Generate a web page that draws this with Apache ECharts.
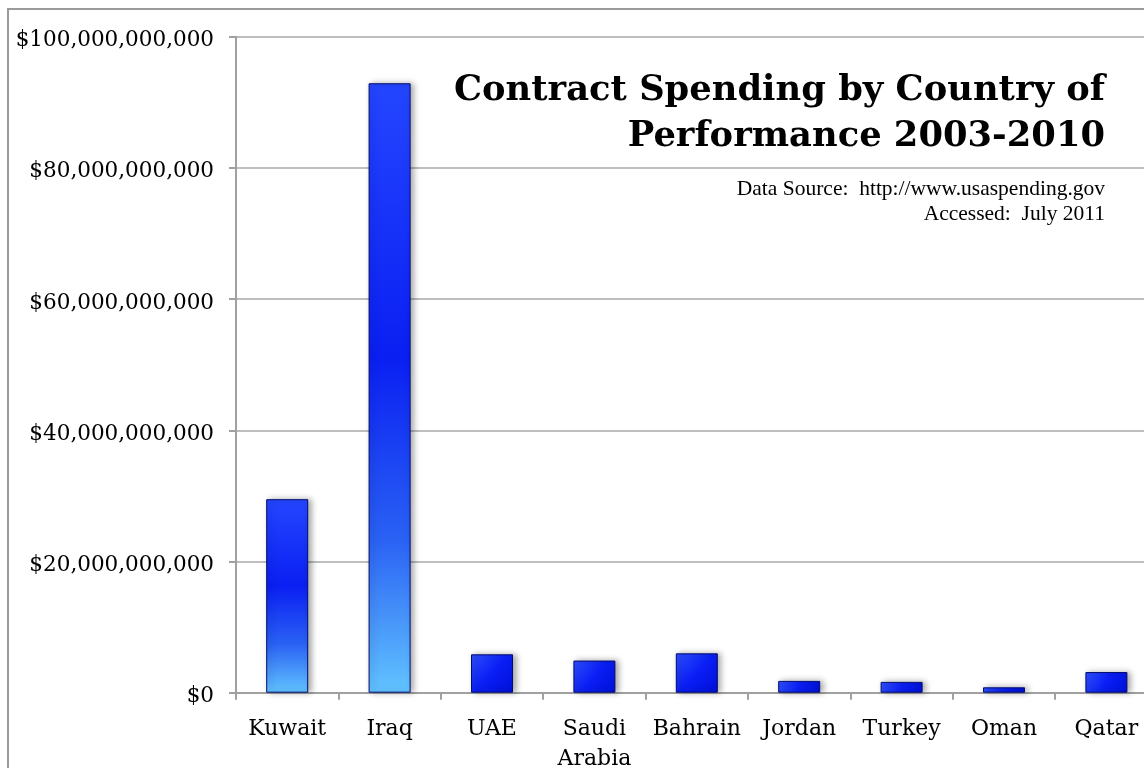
<!DOCTYPE html>
<html>
<head>
<meta charset="utf-8">
<script src="https://cdn.jsdelivr.net/npm/echarts@6/dist/echarts.min.js"></script>
<style>
html,body{margin:0;padding:0;background:#fff;}
#chart{width:1144px;height:768px;}
</style>
</head>
<body>
<div id="chart"></div>
<script>
// Data (US dollars)
const categories = ['Kuwait', 'Iraq', 'UAE', 'Saudi\nArabia', 'Bahrain', 'Jordan', 'Turkey', 'Oman', 'Qatar'];
const spending = [29500000000, 92900000000, 5850000000, 4900000000, 6000000000, 1800000000, 1650000000, 820000000, 3150000000];
const yTicks = [0, 20000000000, 40000000000, 60000000000, 80000000000, 100000000000];
const titleText = 'Contract Spending by Country of\nPerformance 2003-2010';
const sourceText = 'Data Source:  http://www.usaspending.gov\nAccessed:  July 2011';

function fmtDollars(v) {
  return '$' + String(Math.round(v)).replace(/\B(?=(\d{3})+(?!\d))/g, ',');
}

const tallGradient = new echarts.graphic.LinearGradient(0, 0, 0, 1, [
  {offset: 0, color: '#2446ff'},
  {offset: 0.45, color: '#0a1ff2'},
  {offset: 0.75, color: '#2a62f4'},
  {offset: 1, color: '#62c4ff'}
]);
const shortGradient = new echarts.graphic.LinearGradient(0, 0, 1, 1, [
  {offset: 0, color: '#2e50ff'},
  {offset: 0.5, color: '#0a1ef5'},
  {offset: 1, color: '#0010d8'}
]);

const barData = spending.map(v => ({
  value: v,
  itemStyle: { color: v > 10000000000 ? tallGradient : shortGradient }
}));

const chart = echarts.init(document.getElementById('chart'), null, {renderer: 'canvas'});
chart.setOption({
  animation: false,
  backgroundColor: '#ffffff',
  title: [{
    text: titleText,
    left: 1100,
    top: 63,
    textAlign: 'right',
    textStyle: {
      fontFamily: 'DejaVu Serif',
      fontWeight: 'bold',
      fontSize: 35.3,
      lineHeight: 46,
      color: '#000'
    }
  }, {
    text: sourceText,
    left: 1100,
    top: 172,
    textAlign: 'right',
    textStyle: {
      fontFamily: 'Liberation Serif',
      fontWeight: 'normal',
      fontSize: 21.5,
      lineHeight: 25,
      color: '#000'
    }
  }],
  graphic: [{
    type: 'rect',
    shape: {x: 8, y: 9, width: 1300, height: 900},
    style: {fill: 'none', stroke: '#9a9a9a', lineWidth: 2},
    silent: true,
    z: -1
  }],
  grid: {
    left: 236,
    right: -13.6,
    top: 36.7,
    bottom: 75.3,
    containLabel: false,
    outerBoundsMode: 'none'
  },
  xAxis: {
    type: 'category',
    data: categories,
    axisLine: {show: true, lineStyle: {color: '#a0a0a0', width: 2}},
    axisTick: {show: true, length: 7, alignWithLabel: false, lineStyle: {color: '#a0a0a0', width: 2}},
    axisLabel: {
      fontFamily: 'DejaVu Serif',
      fontSize: 22,
      color: '#000',
      margin: 22,
      lineHeight: 30,
      interval: 0
    }
  },
  yAxis: {
    type: 'value',
    min: yTicks[0],
    max: yTicks[yTicks.length - 1],
    interval: yTicks[1] - yTicks[0],
    axisLine: {show: true, lineStyle: {color: '#a0a0a0', width: 2}},
    axisTick: {show: true, length: 7, lineStyle: {color: '#a0a0a0', width: 2}},
    splitLine: {show: true, lineStyle: {color: '#a8a8a8', width: 1.5}},
    axisLabel: {
      formatter: fmtDollars,
      fontFamily: 'DejaVu Serif',
      fontSize: 21.5,
      color: '#000',
      margin: 22,
      verticalAlign: 'top',
      lineHeight: 8
    }
  },
  series: [{
    type: 'bar',
    data: barData,
    barWidth: 42,
    itemStyle: {
      borderColor: '#000c70',
      borderWidth: 1,
      shadowColor: 'rgba(0,0,0,0.35)',
      shadowBlur: 6,
      shadowOffsetX: 3,
      shadowOffsetY: 0
    }
  }]
});
</script>
</body>
</html>
